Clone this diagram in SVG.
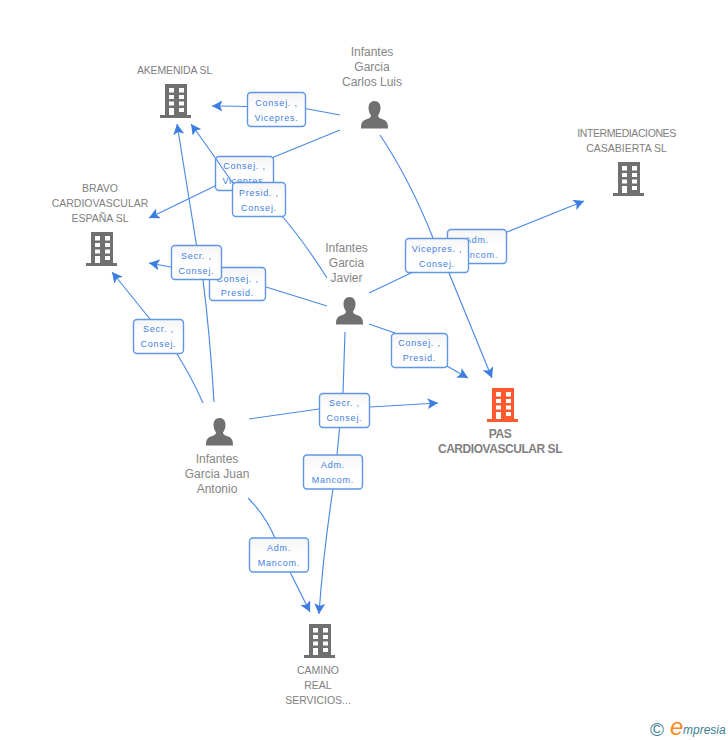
<svg xmlns="http://www.w3.org/2000/svg" width="728" height="740" viewBox="0 0 728 740">
<style>
text{font-family:"Liberation Sans",Arial,sans-serif}
.n{font-size:10.500px;fill:#808080;text-anchor:middle}
.w{letter-spacing:-.4px}
.p{font-size:12px;fill:#858585;text-anchor:middle}
.b{font-size:12px;letter-spacing:-.45px;font-weight:bold;fill:#7f7f7f;text-anchor:middle}
.l{font-size:9px;letter-spacing:.75px;fill:#3f80e2;text-anchor:middle}
.e{fill:none;stroke:#4a8ae6;stroke-width:1.150;marker-end:url(#a)}
.r{fill:url(#g);stroke:#5f97e6;stroke-width:1.400}
</style>
<defs>
<linearGradient id="g" x1="0" y1="0" x2="0" y2="1"><stop offset="0" stop-color="#f5f5f5"/><stop offset=".5" stop-color="#fff"/></linearGradient>
<marker id="a" viewBox="0 0 11 11" refX="10.500" refY="5.500" markerWidth="11" markerHeight="11" markerUnits="userSpaceOnUse" orient="auto"><path d="M0 0L10.500 5.500L0 11L2.500 5.500Z" fill="#3b7de0"/></marker>
<symbol id="bld" viewBox="0 0 32 34" width="32" height="34" overflow="visible">
<path fill-rule="evenodd" d="M4 0H26V31H30V34H-1V31H4ZM8 4V8.500H13V4ZM18 4V8.500H23V4ZM8 11V15H13V11ZM18 11V15H23V11ZM8 17.500V21.500H13V17.500ZM18 17.500V21.500H23V17.500ZM8 24V31H13V24ZM18 24V28H23V24Z"/>
</symbol>
<symbol id="per" viewBox="0 0 28 28" width="28" height="28" overflow="visible">
<path d="M14 0C18 0 20 3 20 7C20 10.500 18.500 13 17.500 14.500C17.500 16.500 19 17 22 18.300C25.500 19.700 27.500 21 27.500 27V27.500H0.500V27C0.500 21 2.500 19.700 6 18.300C9 17 10.500 16.500 10.500 14.500C9.500 13 8 10.500 8 7C8 3 10 0 14 0Z"/>
</symbol>
</defs>
<rect width="728" height="740" fill="#fff"/>
<g id="connectors">
<path class="e" d="M340 115L305 108.500Q275 106.500 212 106"/>
<g><rect class="r" x="247.500" y="92.500" width="58" height="34" rx="3.500"/><text class="l" x="276.500" y="106">Consej. ,</text><text class="l" x="276.500" y="121">Vicepres.</text></g>
<path class="e" d="M340 130L274 157L215 186L149 218"/>
<g><rect class="r" x="215.500" y="156.500" width="58" height="34" rx="3.500"/><text class="l" x="244.500" y="169">Consej. ,</text><text class="l" x="244.500" y="184">Vicepres.</text></g>
<path class="e" d="M327 278Q305 243 282 216L232 182Q210 150 191 124"/>
<g><rect class="r" x="232.500" y="182.500" width="53" height="34" rx="3.500"/><text class="l" x="259" y="195.500">Presid. ,</text><text class="l" x="259" y="210.500">Consej.</text></g>
<path class="e" d="M327 306L266 287Q240 280 209 274L149 263"/>
<g><rect class="r" x="209.500" y="267.500" width="56" height="33" rx="3.500"/><text class="l" x="237.500" y="281.500">Consej. ,</text><text class="l" x="237.500" y="296">Presid.</text></g>
<path class="e" d="M214 402Q210 335 203 280L196.500 245L177 124"/>
<g><rect class="r" x="171.500" y="245.500" width="50" height="34" rx="3.500"/><text class="l" x="196.500" y="259">Secr. ,</text><text class="l" x="196.500" y="274">Consej.</text></g>
<path class="e" d="M203 403Q192 378 177 354L150 319L112 272"/>
<g><rect class="r" x="133.500" y="319.500" width="50" height="34" rx="3.500"/><text class="l" x="158.500" y="332">Secr. ,</text><text class="l" x="158.500" y="347">Consej.</text></g>
<path class="e" d="M369 293L411 273L507 232L584 201"/>
<g><rect class="r" x="447.500" y="229.500" width="59" height="34" rx="3.500"/><text class="l" x="477" y="243">Adm.</text><text class="l" x="477" y="258">Mancom.</text></g>
<path class="e" d="M380 135Q410 180 433 238L449 273L492 378"/>
<g><rect class="r" x="405.500" y="238.500" width="63" height="34" rx="3.500"/><text class="l" x="437" y="252">Vicepres. ,</text><text class="l" x="437" y="267">Consej.</text></g>
<path class="e" d="M369 324L395 333L447 366L468 378"/>
<g><rect class="r" x="391.500" y="333.500" width="56" height="34" rx="3.500"/><text class="l" x="419.500" y="346">Consej. ,</text><text class="l" x="419.500" y="361">Presid.</text></g>
<path class="e" d="M249 419L319 409L370 407L438 403"/>
<path class="e" d="M345 332L343 393L337 455L333 489Q323 555 319 614"/>
<g><rect class="r" x="319.500" y="393.500" width="50" height="34" rx="3.500"/><text class="l" x="344.500" y="406">Secr. ,</text><text class="l" x="344.500" y="421">Consej.</text></g>
<g><rect class="r" x="303.500" y="455" width="59" height="34" rx="3.500"/><text class="l" x="333" y="468">Adm.</text><text class="l" x="333" y="483">Mancom.</text></g>
<path class="e" d="M248 498Q265 515 275 538L290 572L310 612"/>
<g><rect class="r" x="249.500" y="538" width="59" height="34" rx="3.500"/><text class="l" x="279" y="551">Adm.</text><text class="l" x="279" y="566">Mancom.</text></g>
</g>
<g id="akemenida"><use href="#bld" x="161" y="84" fill="#707070"/><text class="n" x="174.500" y="74" style="letter-spacing:-.15px">AKEMENIDA SL</text></g>
<g id="bravo"><use href="#bld" x="87" y="232" fill="#707070"/><text class="n" x="100" y="192">BRAVO</text><text class="n" x="100" y="207">CARDIOVASCULAR</text><text class="n" x="100" y="222">ESPAÑA SL</text></g>
<g id="intermediaciones"><use href="#bld" x="614" y="162" fill="#707070"/><text class="n w" x="626.500" y="137">INTERMEDIACIONES</text><text class="n" x="626.500" y="152">CASABIERTA SL</text></g>
<g id="pas"><use href="#bld" x="488" y="388" fill="#ff5a2e"/><text class="b" x="500" y="438">PAS</text><text class="b" x="500" y="453">CARDIOVASCULAR SL</text></g>
<g id="camino"><use href="#bld" x="305" y="624" fill="#707070"/><text class="n" x="318" y="674">CAMINO</text><text class="n" x="318" y="689">REAL</text><text class="n" x="318" y="704">SERVICIOS...</text></g>
<g id="carlos"><use href="#per" x="360.500" y="101" fill="#707070"/><text class="p" x="372" y="56">Infantes</text><text class="p" x="372" y="71">Garcia</text><text class="p" x="372" y="86">Carlos Luis</text></g>
<g id="javier"><use href="#per" x="335.500" y="297" fill="#707070"/><text class="p" x="346.500" y="252">Infantes</text><text class="p" x="346.500" y="267">Garcia</text><text class="p" x="346.500" y="282">Javier</text></g>
<g id="juan"><use href="#per" x="205.500" y="418" fill="#707070"/><text class="p" x="217" y="463">Infantes</text><text class="p" x="217" y="478">Garcia Juan</text><text class="p" x="217" y="493">Antonio</text></g>
<g id="logo"><text x="650" y="736" font-size="19" fill="#3f7f95">©</text><text x="670" y="735" font-size="24" font-style="italic" fill="#f58a1f">e</text><text x="683" y="734" font-size="12" font-style="italic" fill="#3f7f95">mpresia</text></g>
</svg>
